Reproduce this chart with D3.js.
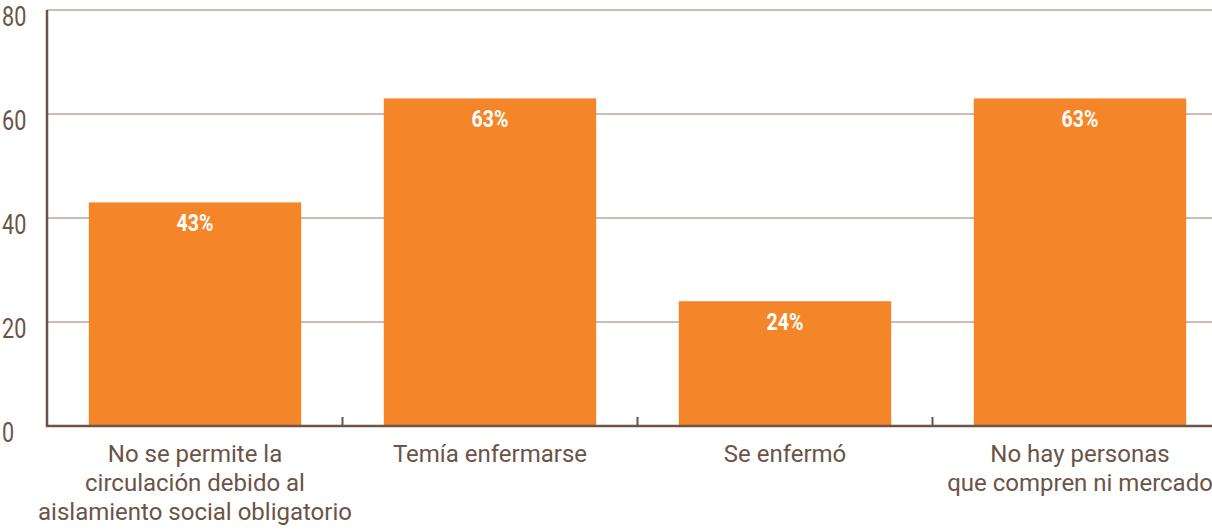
<!DOCTYPE html>
<html>
<head>
<meta charset="utf-8">
<script src="https://cdn.jsdelivr.net/npm/d3@7"></script>
<style>
  body { margin: 0; background: #fff; }
  text { font-family: Roboto, "Noto Sans", sans-serif; }
</style>
</head>
<body>
<div id="chart"></div>
<script>
var categories = [
  ["No se permite la", "circulación debido al", "aislamiento social obligatorio"],
  ["Temía enfermarse"],
  ["Se enfermó"],
  ["No hay personas", "que compren ni mercado"]
];
var values = [43, 63, 24, 63];
var yTicks = [0, 20, 40, 60, 80];

var width = 1212;
var height = 529;
var axisColor = "#6b5446";
var gridColor = "#c9bdb5";
var barColor = "#f48629";

/* Scale */
var xScale = d3.scaleBand()
  .domain(d3.range(categories.length))
  .range([47.5, 1227.5])
  .paddingInner(0.28)
  .paddingOuter(0.14);

var yScale = d3.scaleLinear()
  .domain([0, 80])
  .range([426, 10]);

var svg = d3.select("#chart").append("svg")
  .attr("width", width)
  .attr("height", height);

/* grid */
svg.append("g")
  .selectAll("line")
  .data(yTicks.filter(d => d > 0)).enter()
  .append("line")
  .attr("x1", 47)
  .attr("x2", width)
  .attr("y1", d => yScale(d))
  .attr("y2", d => yScale(d))
  .style("stroke", gridColor)
  .style("stroke-width", 2);

/* y labels (condensed look) */
svg.append("g")
  .selectAll("text")
  .data(yTicks).enter()
  .append("text")
  .attr("transform", d => `translate(2, ${yScale(d) + 15.5}) scale(0.8, 1)`)
  .style("font-size", "27px")
  .style("fill", axisColor)
  .text(d => d);

/* bars */
svg.append("g")
  .selectAll("rect")
  .data(values).enter()
  .append("rect")
  .attr("x", (d, i) => xScale(i))
  .attr("y", d => yScale(d))
  .attr("width", xScale.bandwidth())
  .attr("height", d => yScale(0) - yScale(d))
  .style("fill", barColor);

/* value labels */
svg.append("g")
  .selectAll("text")
  .data(values).enter()
  .append("text")
  .attr("transform", (d, i) => `translate(${xScale(i) + xScale.bandwidth() / 2}, ${yScale(d) + 29}) scale(0.83, 1)`)
  .attr("text-anchor", "middle")
  .style("font-size", "23.5px")
  .style("font-weight", "bold")
  .style("fill", "#fff")
  .text(d => d + "%");

/* axes lines */
var step = xScale.step();
var x0 = xScale(0) - xScale.paddingOuter() * step;
svg.append("line")
  .attr("x1", 47).attr("x2", 47)
  .attr("y1", yScale(80)).attr("y2", yScale(0) + 1)
  .style("stroke", axisColor).style("stroke-width", 2.5);
svg.append("line")
  .attr("x1", 46).attr("x2", width)
  .attr("y1", yScale(0)).attr("y2", yScale(0))
  .style("stroke", axisColor).style("stroke-width", 2.5);

svg.append("g")
  .selectAll("line")
  .data(d3.range(1, categories.length)).enter()
  .append("line")
  .attr("x1", i => x0 + i * step)
  .attr("x2", i => x0 + i * step)
  .attr("y1", yScale(0) - 9)
  .attr("y2", yScale(0))
  .style("stroke", axisColor).style("stroke-width", 2);

/* category labels */
var cat = svg.append("g")
  .selectAll("text")
  .data(categories).enter()
  .append("text")
  .attr("text-anchor", "middle")
  .attr("transform", (d, i) => `translate(${xScale(i) + xScale.bandwidth() / 2}, 0)`)
  .style("font-size", "24px")
  .style("fill", axisColor);

cat.selectAll("tspan")
  .data(d => d).enter()
  .append("tspan")
  .attr("x", 0)
  .attr("y", (d, j) => 461.5 + j * 29)
  .text(d => d);
</script>
</body>
</html>
